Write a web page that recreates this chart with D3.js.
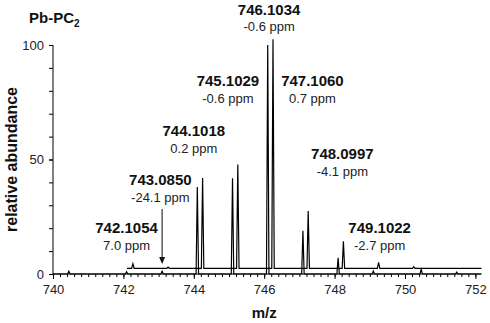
<!DOCTYPE html>
<html><head><meta charset="utf-8">
<script src="https://cdn.jsdelivr.net/npm/d3@7"></script>
<style>
body{margin:0;background:#fff;}
svg text{font-family:"Liberation Sans",Arial,sans-serif;}
</style></head>
<body><svg id="c" width="490" height="323"></svg>
<script>
// measured spectrum (lower trace): m/z and relative abundance
const expMz     = [740.45, 742.09, 743.10, 744.10, 745.10, 746.10, 747.10, 748.10, 749.10, 750.46, 751.47];
const expAbund  = [1.2,    1.0,    1.2,    38.0,   41.8,   100,    18.9,   7.1,    1.3,    2.0,    0.8];
// simulated pattern (upper, offset trace)
const simMz     = [742.27, 743.27, 744.25, 745.25, 746.25, 747.25, 748.25, 749.25, 750.25];
const simAbund  = [2.0,    0.5,    39.4,   45.3,   100,    25.0,   11.8,   2.6,    0.7];
const simOffset = 2.5;
// annotations
const labelMass = ["742.1054","743.0850","744.1018","745.1029","746.1034","747.1060","748.0997","749.1022"];
const labelPpm  = ["7.0 ppm","-24.1 ppm","0.2 ppm","-0.6 ppm","-0.6 ppm","0.7 ppm","-4.1 ppm","-2.7 ppm"];
const labelMz   = [742.09, 743.05, 744.00, 744.97, 746.14, 747.37, 748.22, 749.28];
const labelY    = [10.5, 31.6, 53.0, 74.7, 106.0, 74.7, 42.8, 10.5];
const xTicks = [740, 742, 744, 746, 748, 750, 752];
const yTicks = [0, 50, 100];

const svg = d3.select("#c");
const x = d3.scaleLinear().domain([740, 752]).range([53, 475.4]);
const y = d3.scaleLinear().domain([0, 100]).range([274, 45]);
const xEnd = 752.17;

// axes
const gx = svg.append("g").attr("transform", `translate(0,${y(0)})`);
gx.call(d3.axisBottom(x).tickValues(d3.range(740, 752.01, 0.2)).tickSize(3).tickFormat(""));
gx.call(g => g.select(".domain").remove());
const gx2 = svg.append("g").attr("transform", `translate(0,${y(0)})`);
gx2.call(d3.axisBottom(x).tickValues(xTicks).tickSize(5).tickPadding(6).tickFormat(d3.format("d")));
gx2.select(".domain").remove();
gx2.selectAll("text").attr("font-size", 13).attr("fill", "#222");
svg.append("line").attr("x1", x(740)).attr("x2", x(xEnd)).attr("y1", y(0)).attr("y2", y(0)).attr("stroke", "#000");

const gy = svg.append("g").attr("transform", `translate(${x(740)},0)`);
gy.call(d3.axisLeft(y).tickValues(d3.range(0, 101, 10)).tickSize(4).tickFormat(""));
gy.select(".domain").remove();
const gy2 = svg.append("g").attr("transform", `translate(${x(740)},0)`);
gy2.call(d3.axisLeft(y).tickValues(yTicks).tickSize(4).tickPadding(5));
gy2.selectAll("text").attr("font-size", 13).attr("fill", "#222");
gy2.select(".domain").attr("d", `M0,${y(0)}V${y(100)}`);
svg.selectAll(".tick line").attr("stroke", "#000");

// traces
const hw = 0.035;
function tracePts(mz, ab, start, base) {
  const pts = [[start, base]];
  mz.forEach((m, i) => { pts.push([m - hw, base], [m, base + ab[i]], [m + hw, base]); });
  pts.push([xEnd, base]);
  return pts;
}
const line = d3.line().x(d => x(d[0])).y(d => y(d[1]));
svg.append("path").attr("d", line(tracePts(expMz, expAbund, 740, 0)))
  .attr("fill", "none").attr("stroke", "#000").attr("stroke-width", 1.2);
svg.append("path").attr("d", line(tracePts(simMz, simAbund, 742.1, simOffset)))
  .attr("fill", "none").attr("stroke", "#000").attr("stroke-width", 1.2);

// labels
labelMass.forEach((t, i) => {
  svg.append("text").attr("x", x(labelMz[i])).attr("y", y(labelY[i]) - 16.5)
    .attr("text-anchor", "middle").attr("font-size", 15).attr("font-weight", "bold").attr("fill", "#111").text(t);
  svg.append("text").attr("x", x(labelMz[i])).attr("y", y(labelY[i]))
    .attr("text-anchor", "middle").attr("font-size", 13).attr("fill", "#222").text(labelPpm[i]);
});

// arrow to 743.1
const ax = x(743.10);
svg.append("line").attr("x1", ax).attr("x2", ax).attr("y1", 209).attr("y2", 258)
  .attr("stroke", "#333").attr("stroke-width", 1.2);
svg.append("path").attr("d", `M${ax-3},257L${ax+3},257L${ax},264Z`).attr("fill", "#111");

// title and axis titles
const title = svg.append("text").attr("x", 29).attr("y", 23).attr("font-size", 15).attr("font-weight", "bold").attr("fill", "#111");
title.append("tspan").text("Pb-PC");
title.append("tspan").attr("font-size", 10).attr("dy", 4).text("2");
svg.append("text").attr("x", x(746)).attr("y", 318).attr("text-anchor", "middle")
  .attr("font-size", 15).attr("font-weight", "bold").attr("fill", "#111").text("m/z");
svg.append("text").attr("transform", `translate(17,${(y(0)+y(100))/2}) rotate(-90)`).attr("text-anchor", "middle")
  .attr("font-size", 16).attr("font-weight", "bold").attr("fill", "#111").text("relative abundance");
</script></body></html>
